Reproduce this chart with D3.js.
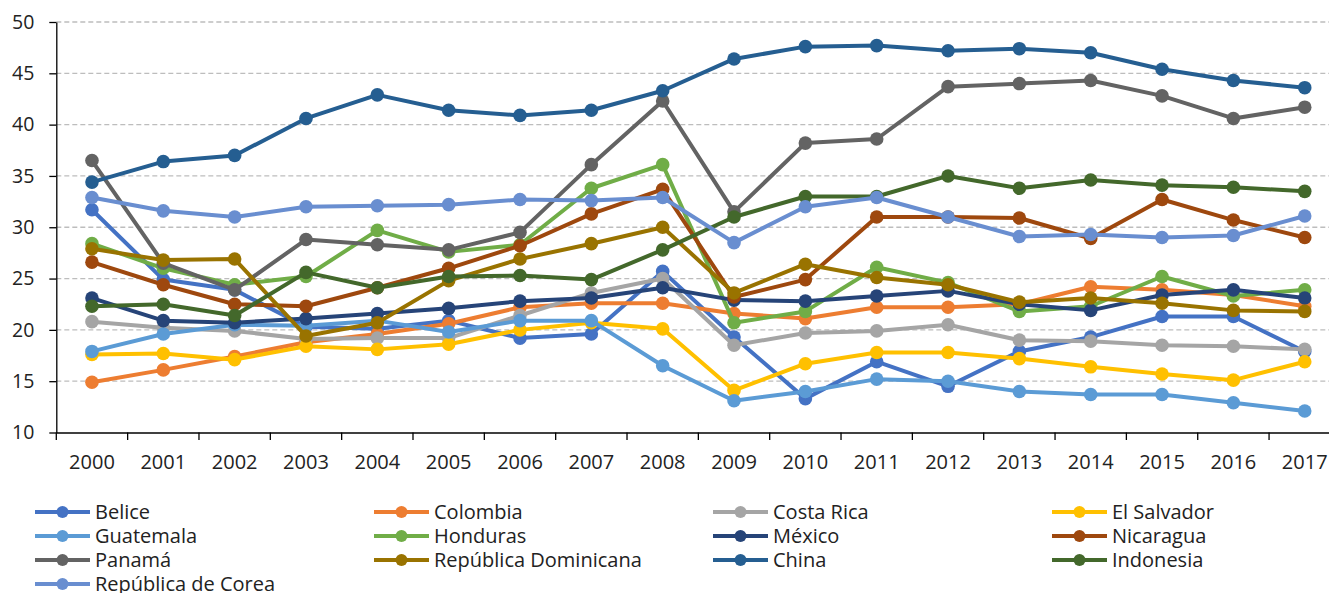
<!DOCTYPE html>
<html>
<head>
<meta charset="utf-8">
<script src="https://cdn.jsdelivr.net/npm/d3@7"></script>
<style>
	body { margin: 0; background: #fff; }
	text { font-family: "Open Sans", "Noto Sans", sans-serif; fill: #222; }
</style>
</head>
<body>
<script>
// years on the x axis
var years = ["2000", "2001", "2002", "2003", "2004", "2005", "2006", "2007", "2008",
	"2009", "2010", "2011", "2012", "2013", "2014", "2015", "2016", "2017"];

// y axis tick values
var yTicks = [10, 15, 20, 25, 30, 35, 40, 45, 50];

// one array per country
var belice = [31.7, 24.9, 23.9, 20.3, 20.1, 20.9, 19.2, 19.6, 25.7, 19.3, 13.3, 16.9, 14.5, 17.9, 19.3, 21.3, 21.3, 17.9];
var colombia = [14.9, 16.1, 17.4, 18.8, 19.6, 20.6, 22.2, 22.6, 22.6, 21.6, 21.1, 22.2, 22.2, 22.5, 24.2, 23.9, 23.4, 22.3];
var costaRica = [20.8, 20.2, 19.9, 19.1, 19.2, 19.2, 21.4, 23.6, 25.0, 18.5, 19.7, 19.9, 20.5, 19.0, 18.9, 18.5, 18.4, 18.1];
var elSalvador = [17.6, 17.7, 17.1, 18.4, 18.1, 18.6, 20.0, 20.7, 20.1, 14.1, 16.7, 17.8, 17.8, 17.2, 16.4, 15.7, 15.1, 16.9];
var guatemala = [17.9, 19.6, 20.5, 20.4, 20.9, 19.8, 20.9, 20.9, 16.5, 13.1, 14.0, 15.2, 15.0, 14.0, 13.7, 13.7, 12.9, 12.1];
var honduras = [28.4, 26.0, 24.4, 25.2, 29.7, 27.6, 28.3, 33.8, 36.1, 20.7, 21.8, 26.1, 24.6, 21.8, 22.3, 25.2, 23.3, 23.9];
var mexico = [23.1, 20.9, 20.7, 21.1, 21.6, 22.1, 22.8, 23.1, 24.1, 22.9, 22.8, 23.3, 23.8, 22.5, 21.9, 23.4, 23.9, 23.1];
var nicaragua = [26.6, 24.4, 22.5, 22.3, 24.1, 26.0, 28.2, 31.3, 33.7, 23.2, 24.9, 31.0, 31.0, 30.9, 28.9, 32.7, 30.7, 29.0];
var panama = [36.5, 26.5, 23.9, 28.8, 28.3, 27.8, 29.5, 36.1, 42.3, 31.5, 38.2, 38.6, 43.7, 44.0, 44.3, 42.8, 40.6, 41.7];
var repDominicana = [27.9, 26.8, 26.9, 19.4, 20.7, 24.8, 26.9, 28.4, 30.0, 23.6, 26.4, 25.1, 24.4, 22.7, 23.1, 22.6, 21.9, 21.8];
var china = [34.4, 36.4, 37.0, 40.6, 42.9, 41.4, 40.9, 41.4, 43.3, 46.4, 47.6, 47.7, 47.2, 47.4, 47.0, 45.4, 44.3, 43.6];
var indonesia = [22.3, 22.5, 21.4, 25.6, 24.1, 25.2, 25.3, 24.9, 27.8, 31.0, 33.0, 33.0, 35.0, 33.8, 34.6, 34.1, 33.9, 33.5];
var corea = [32.9, 31.6, 31.0, 32.0, 32.1, 32.2, 32.7, 32.6, 32.9, 28.5, 32.0, 32.9, 31.0, 29.1, 29.3, 29.0, 29.2, 31.1];

var seriesNames = ["Belice", "Colombia", "Costa Rica", "El Salvador", "Guatemala", "Honduras", "México",
	"Nicaragua", "Panamá", "República Dominicana", "China", "Indonesia", "República de Corea"];
var seriesValues = [belice, colombia, costaRica, elSalvador, guatemala, honduras, mexico,
	nicaragua, panama, repDominicana, china, indonesia, corea];
var seriesColors = ["#4472c4", "#ed7d31", "#a5a5a5", "#ffc000", "#5b9bd5", "#70ad47", "#264478",
	"#9e480e", "#636363", "#997300", "#255e91", "#43682b", "#698ed0"];

var width = 1329;
var height = 593;

var svg = d3.select("body")
	.append("svg")
	.attr("width", width)
	.attr("height", height);

// scales (the band runs a bit past the right edge, like the original)
var x = d3.scaleBand()
	.domain(years)
	.range([56.3, 1340.4]);

var y = d3.scaleLinear()
	.domain([10, 50])
	.range([432.5, 22]);

// dashed grid lines
svg.append("g")
	.selectAll("line")
	.data(yTicks.filter(function(d) { return d > 10; }))
	.enter()
	.append("line")
	.attr("x1", x.range()[0])
	.attr("x2", width)
	.attr("y1", function(d) { return y(d); })
	.attr("y2", function(d) { return y(d); })
	.attr("stroke", "#bdbdbd")
	.attr("stroke-width", 1.3)
	.attr("stroke-dasharray", "5,3");

// y axis
var yAxis = svg.append("g")
	.attr("transform", "translate(" + x.range()[0] + ",0)")
	.call(d3.axisLeft(y).tickValues(yTicks).tickSize(7).tickPadding(15).tickSizeOuter(0));
yAxis.selectAll("text").style("font-size", "19.5px");

// x axis: labels at band centres
var xAxis = svg.append("g")
	.attr("transform", "translate(0," + y(10) + ")")
	.call(d3.axisBottom(x).tickSize(0).tickPadding(22).tickSizeOuter(0));
xAxis.selectAll("text").style("font-size", "20px");

// x ticks between the years
var bounds = years.map(function(d) { return x(d); }).concat([x.range()[1]]);
svg.append("g")
	.selectAll("line")
	.data(bounds)
	.enter()
	.append("line")
	.attr("x1", function(d) { return d; })
	.attr("x2", function(d) { return d; })
	.attr("y1", y(10))
	.attr("y2", y(10) + 7.5)
	.attr("stroke", "#000");

svg.selectAll(".domain, .tick line").attr("stroke", "#000").attr("stroke-width", 1.3);
svg.selectAll("line").filter(function() { return !this.getAttribute("stroke-dasharray"); })
	.attr("stroke-width", 1.3);

// lines and markers
var line = d3.line()
	.x(function(d, i) { return x(years[i]) + x.bandwidth() / 2; })
	.y(function(d) { return y(d); });

for (var s = 0; s < seriesValues.length; s++) {
	var g = svg.append("g");
	g.append("path")
		.datum(seriesValues[s])
		.attr("d", line)
		.attr("fill", "none")
		.attr("stroke", seriesColors[s])
		.attr("stroke-width", 4)
		.attr("stroke-linejoin", "round");
	g.selectAll("circle")
		.data(seriesValues[s])
		.enter()
		.append("circle")
		.attr("cx", function(d, i) { return x(years[i]) + x.bandwidth() / 2; })
		.attr("cy", function(d) { return y(d); })
		.attr("r", 6.8)
		.attr("fill", seriesColors[s]);
}

// legend, 4 columns
var legend = svg.append("g");
for (var k = 0; k < seriesNames.length; k++) {
	var lx = 35 + (k % 4) * 339;
	var ly = 512 + Math.floor(k / 4) * 24;
	legend.append("line")
		.attr("x1", lx)
		.attr("x2", lx + 55)
		.attr("y1", ly)
		.attr("y2", ly)
		.attr("stroke", seriesColors[k])
		.attr("stroke-width", 4);
	legend.append("circle")
		.attr("cx", lx + 27.5)
		.attr("cy", ly)
		.attr("r", 6)
		.attr("fill", seriesColors[k]);
	legend.append("text")
		.attr("x", lx + 60)
		.attr("y", ly)
		.attr("dy", "0.35em")
		.style("font-size", "20px")
		.text(seriesNames[k]);
}
</script>
</body>
</html>
